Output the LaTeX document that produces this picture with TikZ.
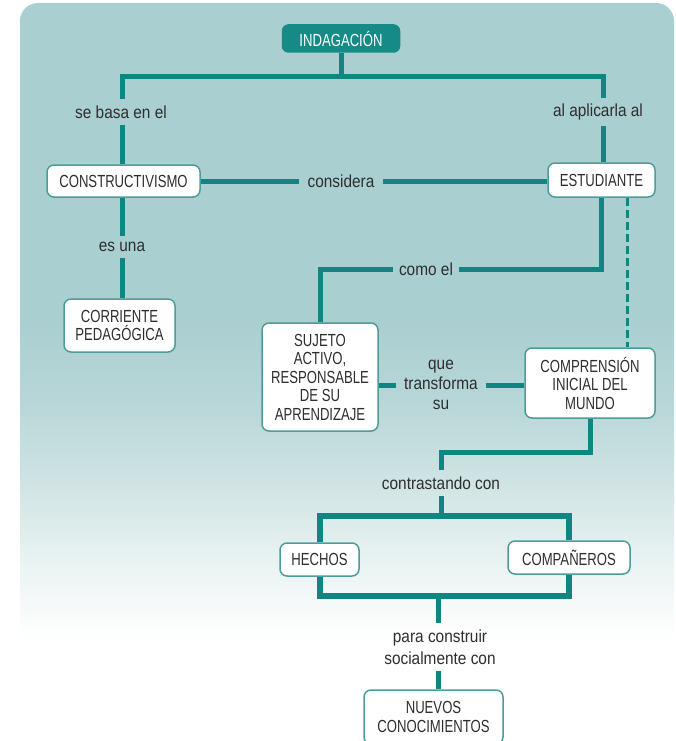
\documentclass[tikz,border=0pt]{standalone}
\usepackage{fontspec}
\setmainfont{Liberation Sans}[FakeStretch=0.75]
\newfontfamily\labfont{Liberation Sans}[FakeStretch=0.88]
\definecolor{ln}{HTML}{0F8682}
\definecolor{bd}{HTML}{4A9E9A}
\definecolor{indf}{HTML}{168A86}
\definecolor{tx}{HTML}{2E2E2E}
\definecolor{bgtop}{HTML}{A9CED0}
\definecolor{bga}{HTML}{AACFD0}
\definecolor{bgb}{HTML}{B7D6D7}
\definecolor{bgc}{HTML}{CFE3E3}
\definecolor{bgd}{HTML}{E9F2F2}
\pgfdeclareverticalshading{bgsh}{100bp}{color(0bp)=(white); color(34bp)=(white); color(39.2bp)=(bgd); color(44.3bp)=(bgc); color(49.5bp)=(bgb); color(54.6bp)=(bga); color(100bp)=(bgtop)}
\tikzset{
  box/.style={draw=bd, line width=1.5pt, fill=white, rounded corners=7pt, align=center, text=tx, inner sep=0pt},
  lab/.style={text=tx, align=center, inner sep=6pt, font=\labfont\fontsize{17.5}{20}\selectfont},
  conn/.style={draw=ln, line width=5pt, line join=miter},
}
\begin{document}
\begin{tikzpicture}[x=1pt,y=-1pt, font=\fontsize{17.5}{18.5}\selectfont]
\useasboundingbox (0,0) rectangle (675,741);
\fill[white] (0,0) rectangle (675,741);
\shade[shading=bgsh, rounded corners=18pt] (20,3) rectangle (674,780);

% boxes
\node[box, fill=indf, draw=indf, text=white, minimum width=117pt, minimum height=27pt, rounded corners=6pt] (ind) at (341,38.5) {INDAGACIÓN};
\node[box, minimum width=153pt, minimum height=32pt] (cons) at (123.5,181) {CONSTRUCTIVISMO};
\node[box, minimum width=107pt, minimum height=34pt] (est) at (601.5,180) {ESTUDIANTE};
\node[box, minimum width=111pt, minimum height=53pt] (corr) at (119.5,325.5) {CORRIENTE\\PEDAGÓGICA};
\node[box, minimum width=116pt, minimum height=108pt] (suj) at (320,377) {SUJETO\\ACTIVO,\\RESPONSABLE\\DE SU\\APRENDIZAJE};
\node[box, minimum width=130pt, minimum height=70pt] (comp) at (590,383) {COMPRENSIÓN\\INICIAL DEL\\MUNDO};
\node[box, minimum width=79pt, minimum height=33pt] (hech) at (319.5,559.5) {HECHOS};
\node[box, minimum width=122pt, minimum height=33pt] (compa) at (569,557.5) {COMPAÑEROS};
\node[box, minimum width=139pt, minimum height=54pt] (nuev) at (433.5,717) {NUEVOS\\CONOCIMIENTOS};

% labels
\node[lab] (l1) at (121,112) {se basa en el};
\node[lab] (l2) at (598,112) {al aplicarla al};
\node[lab, inner xsep=8pt] (l3) at (341,181) {considera};
\node[lab] (l4) at (122,247) {es una};
\node[lab] (l5) at (426,269) {como el};
\node[lab, inner xsep=8pt] (l6) at (441,385) {que\\transforma\\su};
\node[lab] (l7) at (441,483) {contrastando con};
\node[lab, font=\labfont\fontsize{17.5}{22}\selectfont] (l8) at (440,647) {para construir\\socialmente con};

% junction coordinates
\coordinate (tl) at (122,77);
\coordinate (tr) at (603,77);
\coordinate (dx) at (627,0);
\coordinate (c1) at (441,452);
\coordinate (c2) at (441,516);
\coordinate (c3) at (438,596);

% connectors
\draw[conn] (ind.south) -- (ind.south |- tl);
\draw[conn] (l1.north -| tl) -- (tl) -- (tr) -- (l2.north -| tr);
\draw[conn] (l1.south -| tl) -- (cons.north -| tl);
\draw[conn] (l2.south -| tr) -- (est.north -| tr);
\draw[conn] (cons.east |- l3.west) -- (l3.west);
\draw[conn] (l3.east) -- (est.west |- l3.east);
\draw[conn] (cons.south -| l4) -- (l4.north);
\draw[conn] (l4.south) -- (corr.north -| l4);
\draw[conn] (est.south) |- (l5.east);
\draw[conn] (l5.west) -| (suj.north);
\draw[conn, line width=3pt, dash pattern=on 8pt off 4pt] (est.south -| dx) -- (comp.north -| dx);
\draw[conn] (suj.east |- l6.west) -- (l6.west);
\draw[conn] (l6.east) -- (comp.west |- l6.east);
\draw[conn] (comp.south) |- (c1) -- (l7.north);
\draw[conn] (l7.south) -- (c2);
\draw[conn, line width=6pt] (hech.north) -- (hech.north |- c2) -- (compa.north |- c2) -- (compa.north);
\draw[conn, line width=6pt] (hech.south) -- (hech.south |- c3) -- (compa.south |- c3) -- (compa.south);
\draw[conn] (c3) -- (l8.north -| c3);
\draw[conn] (l8.south -| c3) -- (nuev.north -| c3);
\end{tikzpicture}
\end{document}
